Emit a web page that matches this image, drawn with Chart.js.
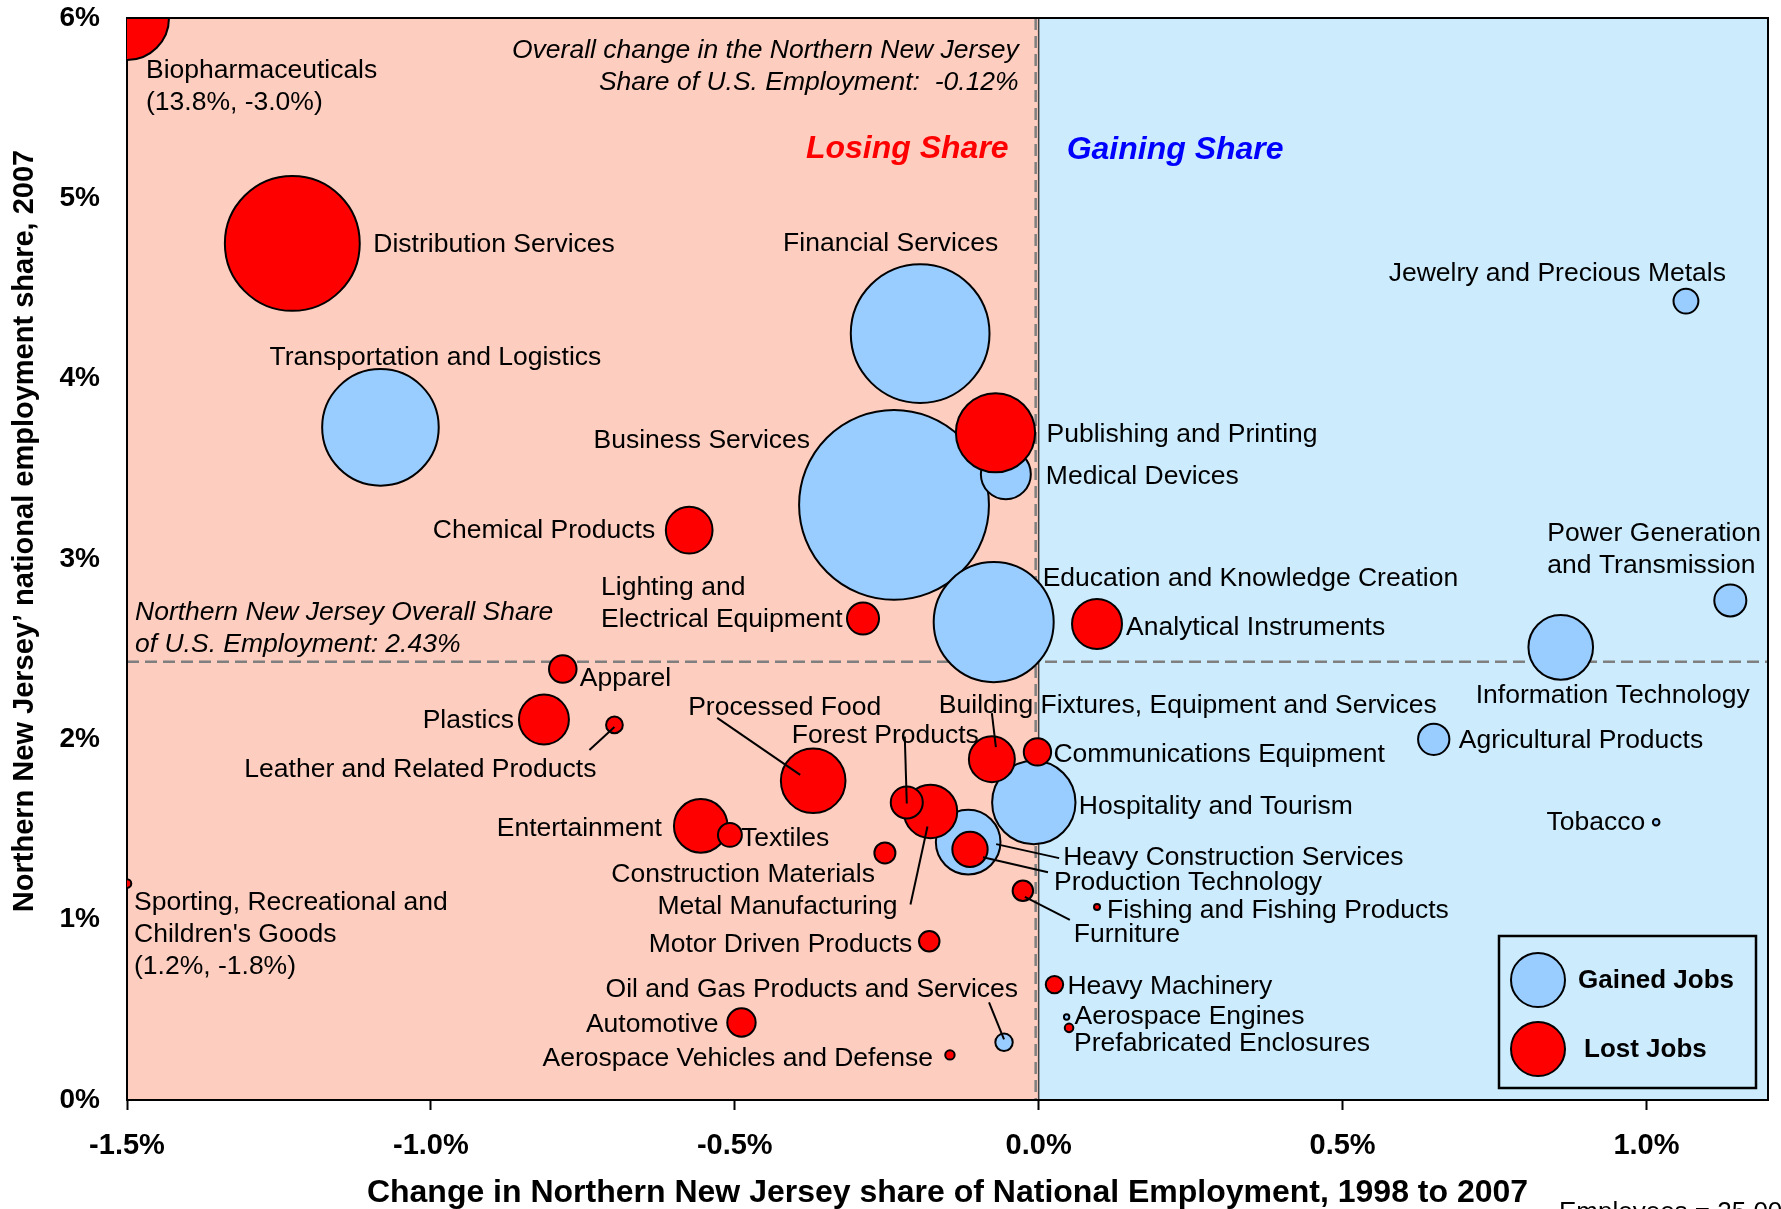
<!DOCTYPE html>
<html>
<head>
<meta charset="utf-8">
<title>Northern New Jersey - cluster share of national employment</title>
<script src="https://cdn.jsdelivr.net/npm/chart.js@4.4.1/dist/chart.umd.min.js"></script>
<style>
  html, body { margin: 0; padding: 0; background: #fff; }
  #chart { display: block; }
</style>
</head>
<body>
<canvas id="chart" width="1781" height="1209"></canvas>
<script>
// Cluster data
// shareChange: change in share of national employment 1998-2007 (%)
// share2007: national employment share in 2007 (%)
const industries = [
    'Business Services', 'Financial Services', 'Education and Knowledge Creation',
    'Transportation and Logistics', 'Hospitality and Tourism', 'Information Technology',
    'Heavy Construction Services', 'Medical Devices', 'Power Generation and Transmission',
    'Agricultural Products', 'Jewelry and Precious Metals', 'Oil and Gas Products and Services',
    'Tobacco', 'Aerospace Engines',
    'Distribution Services', 'Biopharmaceuticals', 'Publishing and Printing', 'Processed Food',
    'Metal Manufacturing', 'Entertainment', 'Analytical Instruments', 'Plastics',
    'Chemical Products', 'Building Fixtures, Equipment and Services', 'Production Technology',
    'Forest Products', 'Lighting and Electrical Equipment', 'Automotive', 'Apparel',
    'Communications Equipment', 'Textiles', 'Construction Materials', 'Furniture',
    'Motor Driven Products', 'Heavy Machinery', 'Leather and Related Products',
    'Aerospace Vehicles and Defense', "Sporting, Recreational and Children's Goods",
    'Prefabricated Enclosures', 'Fishing and Fishing Products'
];
const shareChange = [
    -0.238, -0.195, -0.074,
    -1.083, -0.008, 0.859,
    -0.116, -0.054, 1.138,
    0.650, 1.065, -0.057,
    1.016, 0.046,
    -1.228, -3.0, -0.071, -0.371,
    -0.178, -0.556, 0.096, -0.814,
    -0.575, -0.077, -0.113,
    -0.217, -0.289, -0.489, -0.783,
    -0.002, -0.508, -0.253, -0.026,
    -0.180, 0.026, -0.698,
    -0.146, -1.8,
    0.050, 0.096
];
const share2007 = [
    3.30, 4.25, 2.65,
    3.73, 1.65, 2.51,
    1.43, 3.47, 2.77,
    2.00, 4.43, 0.32,
    1.54, 0.46,
    4.75, 13.8, 3.70, 1.77,
    1.60, 1.52, 2.64, 2.11,
    3.16, 1.89, 1.39,
    1.65, 2.67, 0.43, 2.39,
    1.93, 1.47, 1.37, 1.16,
    0.88, 0.64, 2.08,
    0.25, 1.2,
    0.40, 1.07
];
const employees = [
    309000, 165000, 123500,
    116500, 59600, 35800,
    35800, 21400, 8800,
    8400, 5300, 2600,
    370, 250,
    156000, 60500, 53800, 35800,
    24500, 24600, 21400, 21400,
    18700, 18100, 10700,
    8800, 8800, 6900, 6500,
    6400, 4900, 3800, 3600,
    3600, 2600, 2400,
    760, 630,
    630, 310
];
const jobTrend = [
    'gained', 'gained', 'gained',
    'gained', 'gained', 'gained',
    'gained', 'gained', 'gained',
    'gained', 'gained', 'gained',
    'gained', 'gained',
    'lost', 'lost', 'lost', 'lost',
    'lost', 'lost', 'lost', 'lost',
    'lost', 'lost', 'lost',
    'lost', 'lost', 'lost', 'lost',
    'lost', 'lost', 'lost', 'lost',
    'lost', 'lost', 'lost',
    'lost', 'lost',
    'lost', 'lost'
];

const xTickValues = [-1.5, -1.0, -0.5, 0, 0.5, 1.0];
const yTickValues = [0, 1, 2, 3, 4, 5, 6];
const xRange = [-1.5, 1.2];
const yRange = [0, 6];

const overallShare = 2.43;     // Northern NJ overall share of U.S. employment
const overallChange = -0.12;   // overall change in share
const legendEmployees = 25000; // legend bubble size

// ---- styling ----
const FONT = '"Liberation Sans", Arial, Helvetica, sans-serif';
const PINK = '#FDCEC0';
const PALE_BLUE = '#CCEBFD';
const GAINED = '#99CCFF';
const LOST = '#FF0000';
const LEGEND_R = 27;
const LINE_H = 32;
const LABEL_SHIFT = 2; // baseline nudge for bubble labels

// label placement relative to the bubble centre (pixels)
const labelLayout = {
    'Distribution Services': { dx: 81, dy: -1, align: 'left' },
    'Transportation and Logistics': { dx: -111, dy: -72, align: 'left' },
    'Financial Services': { dx: 78, dy: -92, align: 'right' },
    'Business Services': { dx: -84, dy: -66, align: 'right' },
    'Publishing and Printing': { dx: 51, dy: 0, align: 'left' },
    'Medical Devices': { dx: 40, dy: 0, align: 'left' },
    'Chemical Products': { dx: -34, dy: -1, align: 'right' },
    'Lighting and Electrical Equipment': { dx: -262, dy: -33, align: 'left', lines: ['Lighting and', 'Electrical Equipment'] },
    'Education and Knowledge Creation': { dx: 49, dy: -45, align: 'left' },
    'Analytical Instruments': { dx: 29, dy: 2, align: 'left' },
    'Apparel': { dx: 17, dy: 8, align: 'left' },
    'Plastics': { dx: -30, dy: -1, align: 'right' },
    'Leather and Related Products': { dx: -18, dy: 43, align: 'right', leader: [-25, 25, 0, 2] },
    'Processed Food': { dx: -125, dy: -75, align: 'left', leader: [-96, -63, -13, -6] },
    'Forest Products': { dx: -115, dy: -69, align: 'left', leader: [-2, -66, 0, 1] },
    'Metal Manufacturing': { dx: -33, dy: 93, align: 'right', leader: [-20, 93, -3, 15] },
    'Building Fixtures, Equipment and Services': { dx: -53, dy: -55, align: 'left', leader: [0, -46, 4, -12] },
    'Communications Equipment': { dx: 16, dy: 1, align: 'left' },
    'Hospitality and Tourism': { dx: 45, dy: 2, align: 'left' },
    'Heavy Construction Services': { dx: 95, dy: 14, align: 'left', leader: [28, 2, 91, 16] },
    'Production Technology': { dx: 84, dy: 31, align: 'left', leader: [13, 8, 78, 23] },
    'Entertainment': { dx: -39, dy: 1, align: 'right' },
    'Textiles': { dx: 11, dy: 2, align: 'left' },
    'Construction Materials': { dx: -10, dy: 20, align: 'right' },
    'Furniture': { dx: 51, dy: 42, align: 'left', leader: [2, 6, 47, 29] },
    'Fishing and Fishing Products': { dx: 10, dy: 2, align: 'left' },
    'Motor Driven Products': { dx: -17, dy: 1, align: 'right' },
    'Oil and Gas Products and Services': { dx: 14, dy: -55, align: 'right', leader: [-15, -40, 0, -3] },
    'Automotive': { dx: -23, dy: 0, align: 'right' },
    'Aerospace Vehicles and Defense': { dx: -17, dy: 2, align: 'right' },
    'Heavy Machinery': { dx: 13, dy: 0, align: 'left' },
    'Aerospace Engines': { dx: 8, dy: -2, align: 'left' },
    'Prefabricated Enclosures': { dx: 5, dy: 14, align: 'left' },
    "Sporting, Recreational and Children's Goods": { dx: 7, dy: 17, align: 'left', lines: ['Sporting, Recreational and', "Children's Goods"] },
    'Jewelry and Precious Metals': { dx: 40, dy: -29, align: 'right' },
    'Power Generation and Transmission': { dx: -183, dy: -69, align: 'left', lines: ['Power Generation', 'and Transmission'] },
    'Information Technology': { dx: -85, dy: 46, align: 'left' },
    'Agricultural Products': { dx: 25, dy: -1, align: 'left' },
    'Tobacco': { dx: -11, dy: -2, align: 'right' },
    'Biopharmaceuticals': { dx: 19, dy: 51, align: 'left' }
};

function clamp(v, range) {
    return Math.max(range[0], Math.min(range[1], v));
}

function bubbleRadius(emp) {
    return LEGEND_R * Math.sqrt(emp / legendEmployees);
}

function buildPoints(trend) {
    const pts = [];
    industries.forEach((name, i) => {
        if (jobTrend[i] !== trend) return;
        const offScale = shareChange[i] < xRange[0] || shareChange[i] > xRange[1] ||
                         share2007[i] < yRange[0] || share2007[i] > yRange[1];
        pts.push({
            x: clamp(shareChange[i], xRange),
            y: clamp(share2007[i], yRange),
            r: bubbleRadius(employees[i]),
            name: name,
            note: offScale ? `(${share2007[i].toFixed(1)}%, ${shareChange[i].toFixed(1)}%)` : null
        });
    });
    return pts;
}

function line(ctx, x1, y1, x2, y2) {
    ctx.beginPath();
    ctx.moveTo(x1, y1);
    ctx.lineTo(x2, y2);
    ctx.stroke();
}

// quadrant shading and reference lines
const backgroundPlugin = {
    id: 'quadrants',
    beforeDraw(chart) {
        const { ctx, chartArea: a, scales: { x, y } } = chart;
        const x0 = x.getPixelForValue(0);
        const yAvg = y.getPixelForValue(overallShare);
        ctx.save();
        ctx.fillStyle = PINK;
        ctx.fillRect(a.left, a.top, x0 - a.left, a.bottom - a.top);
        ctx.fillStyle = PALE_BLUE;
        ctx.fillRect(x0, a.top, a.right - x0, a.bottom - a.top);

        ctx.strokeStyle = '#7F7F7F';
        ctx.lineWidth = 2.5;
        ctx.setLineDash([12, 6]);
        line(ctx, a.left, yAvg, a.right, yAvg);
        line(ctx, x0 - 3, a.top, x0 - 3, a.bottom);
        ctx.setLineDash([]);
        ctx.strokeStyle = '#404040';
        ctx.lineWidth = 1.5;
        line(ctx, x0, a.top, x0, a.bottom);
        ctx.restore();
    }
};

// bubble labels, notes, legend and frame
const annotationPlugin = {
    id: 'annotations',
    afterDatasetsDraw(chart) {
        const { ctx, chartArea: a, scales: { x, y } } = chart;
        const x0 = x.getPixelForValue(0);
        const yAvg = y.getPixelForValue(overallShare);
        ctx.save();

        // frame top / right
        ctx.strokeStyle = '#000';
        ctx.lineWidth = 2;
        ctx.beginPath();
        ctx.moveTo(a.left, a.top);
        ctx.lineTo(a.right, a.top);
        ctx.lineTo(a.right, a.bottom);
        ctx.stroke();

        // labels
        ctx.fillStyle = '#000';
        ctx.font = `26.5px ${FONT}`;
        ctx.textBaseline = 'middle';
        chart.data.datasets.forEach((ds, di) => {
            const meta = chart.getDatasetMeta(di);
            meta.data.forEach((el, j) => {
                const pt = ds.data[j];
                const lay = labelLayout[pt.name];
                if (!lay) return;
                if (lay.leader) {
                    ctx.strokeStyle = '#000';
                    ctx.lineWidth = 2;
                    line(ctx, el.x + lay.leader[0], el.y + lay.leader[1], el.x + lay.leader[2], el.y + lay.leader[3]);
                }
                const lines = (lay.lines || [pt.name]).slice();
                if (pt.note) lines.push(pt.note);
                ctx.textAlign = lay.align;
                lines.forEach((t, k) => ctx.fillText(t, el.x + lay.dx, el.y + lay.dy + LABEL_SHIFT + k * LINE_H));
            });
        });

        // italic notes
        ctx.font = `italic 26.5px ${FONT}`;
        ctx.textAlign = 'right';
        ctx.fillText('Overall change in the Northern New Jersey', x0 - 20, a.top + 33);
        ctx.fillText(`Share of U.S. Employment:  ${overallChange.toFixed(2)}%`, x0 - 20, a.top + 65);
        ctx.textAlign = 'left';
        ctx.fillText('Northern New Jersey Overall Share', a.left + 8, yAvg - 49);
        ctx.fillText(`of U.S. Employment: ${overallShare.toFixed(2)}%`, a.left + 8, yAvg - 17);

        ctx.font = `italic bold 32px ${FONT}`;
        ctx.fillStyle = '#FF0000';
        ctx.textAlign = 'right';
        ctx.fillText('Losing Share', x0 - 30, a.top + 131);
        ctx.fillStyle = '#0000FF';
        ctx.textAlign = 'left';
        ctx.fillText('Gaining Share', x0 + 28, a.top + 132);

        // legend
        const lx = 1499, ly = 936, lw = 257, lh = 152;
        ctx.strokeStyle = '#000';
        ctx.lineWidth = 2.5;
        ctx.strokeRect(lx, ly, lw, lh);
        [['Gained Jobs', GAINED, 44, 79], ['Lost Jobs', LOST, 113, 85]].forEach(([txt, col, dy, tx]) => {
            ctx.beginPath();
            ctx.arc(lx + 39, ly + dy, LEGEND_R, 0, Math.PI * 2);
            ctx.fillStyle = col;
            ctx.fill();
            ctx.lineWidth = 2;
            ctx.stroke();
            ctx.fillStyle = '#000';
            ctx.font = `bold 26px ${FONT}`;
            ctx.fillText(txt, lx + tx, ly + dy + 1);
        });

        // legend size note (cut at the bottom edge)
        ctx.font = `26px ${FONT}`;
        ctx.textBaseline = 'alphabetic';
        ctx.fillText(`Employees = ${legendEmployees.toLocaleString('en-US')}`, 1559, 1220);

        // y axis title
        ctx.save();
        ctx.translate(25, 531);
        ctx.rotate(-Math.PI / 2);
        ctx.font = `bold 29px ${FONT}`;
        ctx.textAlign = 'center';
        ctx.textBaseline = 'middle';
        ctx.fillText('Northern New Jersey\u2019 national employment share, 2007', 0, 0);
        ctx.restore();

        ctx.restore();
    }
};

new Chart(document.getElementById('chart'), {
    type: 'bubble',
    data: {
        datasets: [
            {
                label: 'Lost Jobs',
                data: buildPoints('lost'),
                backgroundColor: LOST,
                borderColor: '#000',
                borderWidth: 2,
                clip: 0
            },
            {
                label: 'Gained Jobs',
                data: buildPoints('gained'),
                backgroundColor: GAINED,
                borderColor: '#000',
                borderWidth: 2,
                clip: 0
            }
        ]
    },
    options: {
        responsive: false,
        animation: false,
        events: [],
        layout: { autoPadding: false, padding: { top: 18, right: 13, left: 0, bottom: 0 } },
        plugins: {
            legend: { display: false },
            tooltip: { enabled: false }
        },
        scales: {
            x: {
                type: 'linear',
                min: xRange[0],
                max: xRange[1],
                afterBuildTicks: s => { s.ticks = xTickValues.map(v => ({ value: v })); },
                afterFit: s => { s.height = 109; s.paddingLeft = 0; s.paddingRight = 0; },
                ticks: {
                    callback: v => v.toFixed(1) + '%',
                    font: { family: FONT, size: 29, weight: 'bold' },
                    color: '#000',
                    padding: 19,
                    maxRotation: 0,
                    autoSkip: false
                },
                grid: { drawOnChartArea: false, drawTicks: true, tickLength: 10, color: '#000', tickWidth: 2 },
                border: { display: true, color: '#000', width: 2 },
                title: {
                    display: true,
                    text: 'Change in Northern New Jersey share of National Employment, 1998 to 2007',
                    font: { family: FONT, size: 32, weight: 'bold' },
                    color: '#000',
                    padding: { top: 0, bottom: -3 }
                }
            },
            y: {
                type: 'linear',
                min: yRange[0],
                max: yRange[1],
                afterBuildTicks: s => { s.ticks = yTickValues.map(v => ({ value: v })); },
                afterFit: s => { s.width = 127; s.paddingTop = 0; s.paddingBottom = 0; },
                ticks: {
                    callback: v => v + '%',
                    font: { family: FONT, size: 28, weight: 'bold' },
                    color: '#000',
                    padding: 27
                },
                grid: { drawOnChartArea: false, drawTicks: false },
                border: { display: true, color: '#000', width: 2 }
            }
        }
    },
    plugins: [backgroundPlugin, annotationPlugin]
});
</script>
</body>
</html>
